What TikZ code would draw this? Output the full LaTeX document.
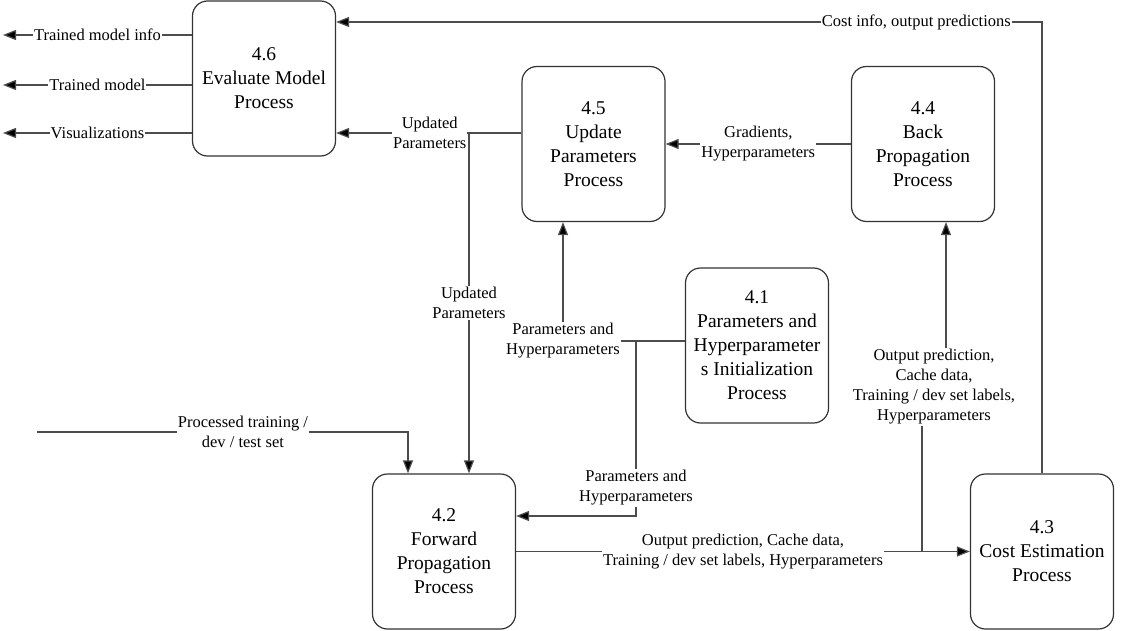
\documentclass[tikz,border=0pt]{standalone}
\usepackage{fontspec}
\setmainfont{Liberation Serif}
\newfontfamily\dfdfont{Liberation Serif}
\usetikzlibrary{positioning, arrows.meta}
\tikzset{
x=1pt, y=-1pt, % one unit is one pixel of the drawing, y goes down
>={Triangle[length=13pt,width=10pt,fill=black]}, % filled arrow heads
process/.style={draw=black!80, line width=1.2pt, rounded corners=15pt,
  minimum width=143pt, minimum height=155pt, align=center,
  font=\dfdfont\fontsize{19.5}{24}\selectfont}, % the process boxes
flow/.style={->, draw=black!70, line width=1.2pt}, % data flows
lbl/.style={fill=white, inner sep=1pt, align=center,
  font=\dfdfont\fontsize{16.5}{20}\selectfont}, % text on a flow
}

\begin{document}
\begin{tikzpicture}
                \useasboundingbox (0,0) rectangle (1123,631);
                \node[process] (p6) at (264,78.5) {4.6\\Evaluate Model\\Process};
                \node[process] (p5) at (593.5,144) {4.5\\Update\\Parameters\\Process};
                \node[process] (p4) at (923,144) {4.4\\Back\\Propagation\\Process};
                \node[process] (p1) at (757,345.5) {4.1\\Parameters and\\Hyperparameter\\s Initialization\\Process};
                \node[process] (p2) at (444,551.5) {4.2\\Forward\\Propagation\\Process};
                \node[process] (p3) at (1042,551.5) {4.3\\Cost Estimation\\Process};
                % free ends, corners and junctions
                \coordinate (o1) at (3,35);
                \coordinate (o2) at (3,85);
                \coordinate (o3) at (3,133);
                \coordinate (top) at (0,22);
                \coordinate (jn1) at (469,133);
                \coordinate (jn2) at (636,341);
                \coordinate (c1) at (563,341);
                \coordinate (c2) at (0,516);
                \coordinate (jn3) at (922,551.5);
                \coordinate (jog) at (934,387);
                \coordinate (c3) at (946,0);
                \coordinate (in) at (37,432);
                \coordinate (c4) at (408,432);
                % outputs of 4.6
                \draw[flow] (p6.west |- o1) -- node[lbl]{Trained model info} (o1);
                \draw[flow] (p6.west |- o2) -- node[lbl]{Trained model} (o2);
                \draw[flow] (p6.west |- o3) -- node[lbl]{Visualizations} (o3);
                % flows between the processes
                \draw[flow] (p3.north) -- (p3.north |- top)
                    -- node[lbl, pos=0.178]{Cost info, output predictions} (p6.east |- top);
                \draw[flow] (p5.west |- jn1) -- (jn1)
                    -- node[lbl, pos=0, anchor=east, xshift=-1pt]{Updated\\Parameters} (p6.east |- jn1);
                \draw[flow] (jn1) -- node[lbl]{Updated\\Parameters} (jn1 |- p2.north);
                \draw[flow] (p4.west) -- node[lbl]{Gradients,\\Hyperparameters} (p5.east);
                \draw[flow] (p1.west |- jn2) -- (c1) node[lbl]{Parameters and\\Hyperparameters} -- (c1 |- p5.south);
                \draw[flow] (jn2) -- node[lbl, pos=0.84]{Parameters and\\Hyperparameters} (jn2 |- c2) -- (p2.east |- c2);
                \draw[flow] (p2.east) -- node[lbl]{Output prediction, Cache data,\\Training / dev set labels, Hyperparameters} (p3.west);
                \draw[flow] (jn3) |- (jog) node[lbl]{Output prediction,\\Cache data,\\Training / dev set labels,\\Hyperparameters} -| (c3 |- p4.south);
                \draw[flow] (in) -- node[lbl, pos=0.555]{Processed training /\\dev / test set} (c4) -- (c4 |- p2.north);
                \end{tikzpicture}
\end{document}
